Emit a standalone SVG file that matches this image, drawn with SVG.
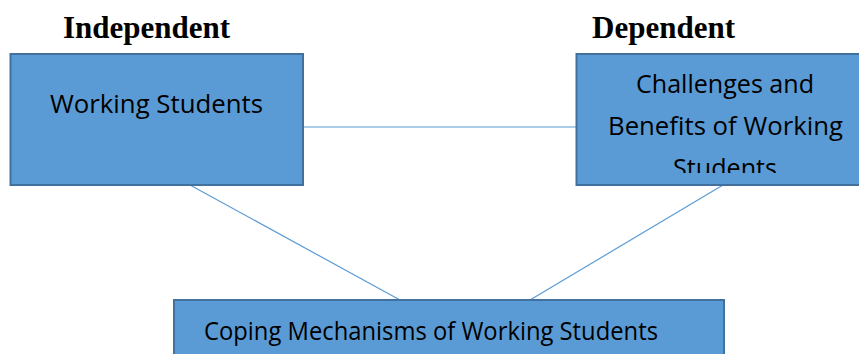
<svg xmlns="http://www.w3.org/2000/svg" width="859" height="354" viewBox="0 0 859 354">
<style>
.box{fill:#5B9BD5;stroke:#41719C;stroke-width:2}
.t{font-family:"Open Sans","Liberation Sans",sans-serif;font-size:25px;fill:#000;text-anchor:middle}
.h{font-family:"Liberation Serif","Times New Roman",serif;font-size:31px;font-weight:bold;fill:#000}
.c{stroke:#5B9BD5;stroke-width:1.2;fill:none}
</style>
<defs>
<clipPath id="clipR"><rect x="576" y="54" width="290" height="119"/></clipPath>
</defs>
<rect width="859" height="354" fill="#fff"/>
<text class="h" x="63" y="38">Independent</text>
<text class="h" x="592" y="38">Dependent</text>
<g id="connectors">
<line class="c" x1="303" y1="127" x2="576" y2="127"/>
<line class="c" x1="190" y1="185" x2="400" y2="300"/>
<line class="c" x1="723" y1="185" x2="530" y2="300"/>
</g>
<g id="working-students">
<rect class="box" x="10.5" y="54" width="292.5" height="131"/>
<text class="t" x="156.5" y="113" textLength="213" lengthAdjust="spacingAndGlyphs">Working Students</text>
</g>
<g id="challenges">
<rect class="box" x="576.5" y="54" width="290" height="131"/>
<g clip-path="url(#clipR)">
<text class="t" x="725" y="93" textLength="178" lengthAdjust="spacingAndGlyphs">Challenges and</text>
<text class="t" x="725.5" y="135" textLength="235" lengthAdjust="spacingAndGlyphs">Benefits of Working</text>
<text class="t" x="725" y="177" textLength="104" lengthAdjust="spacingAndGlyphs">Students</text>
</g>
</g>
<g id="coping">
<rect class="box" x="174" y="300" width="550" height="70"/>
<text class="t" x="431" y="340" textLength="454" lengthAdjust="spacingAndGlyphs">Coping Mechanisms of Working Students</text>
</g>
</svg>
